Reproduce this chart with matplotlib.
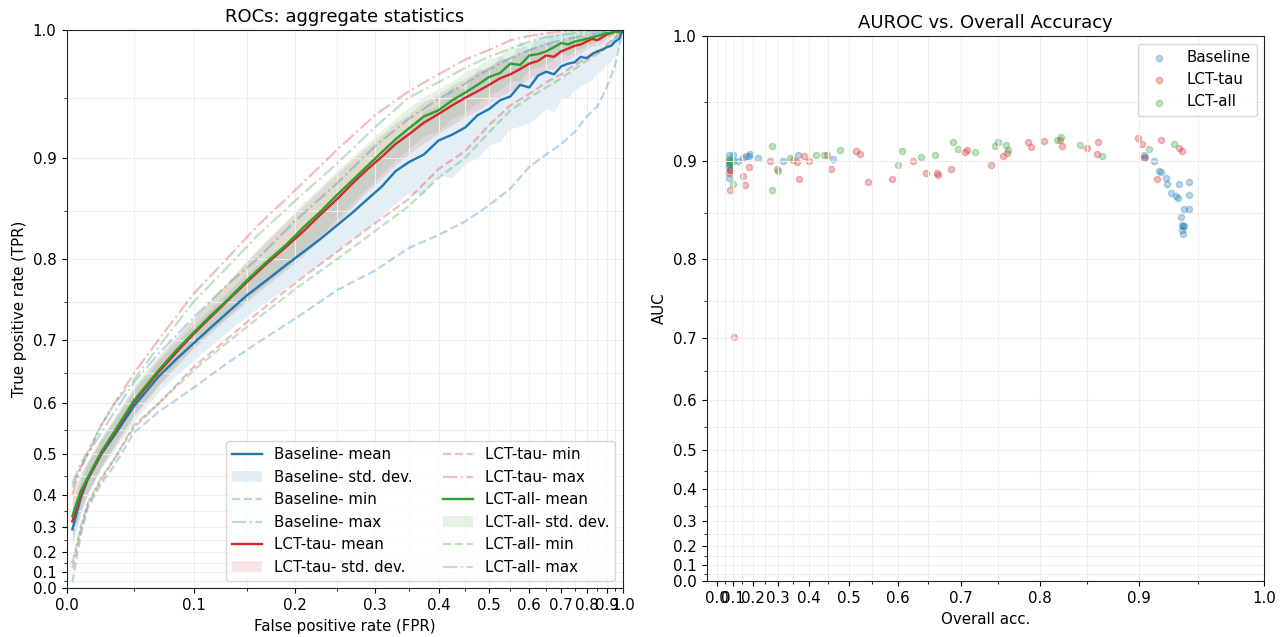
import numpy as np
import matplotlib
matplotlib.use("Agg")
import matplotlib.pyplot as plt
from matplotlib.ticker import FixedLocator, FormatStrFormatter

plt.rcParams["font.size"] = 10.8
plt.rcParams["axes.titlesize"] = 13
plt.rcParams["xtick.major.size"] = 3.8
plt.rcParams["ytick.major.size"] = 3.8
plt.rcParams["xtick.minor.size"] = 2.2
plt.rcParams["ytick.minor.size"] = 2.2

# ---------------- data: ROC aggregate curves ----------------
fpr_fine = [0.004, 0.01, 0.015, 0.025, 0.035, 0.05, 0.07, 0.085,
            0.1, 0.115, 0.13, 0.15, 0.17, 0.19,
            0.21, 0.23, 0.25, 0.27, 0.29,
            0.31, 0.33, 0.35,
            0.375, 0.4, 0.425, 0.45, 0.475, 0.5, 0.525, 0.55, 0.575, 0.6, 0.625, 0.65, 0.675,
            0.7, 0.725, 0.75, 0.775, 0.8, 0.825, 0.85, 0.875, 0.9, 0.925, 0.95, 0.975, 1.0]

base_mean = [0.29, 0.39, 0.44, 0.50, 0.54, 0.595, 0.645, 0.672,
             0.695, 0.716, 0.735, 0.758, 0.776, 0.793,
             0.808, 0.822, 0.836, 0.849, 0.862,
             0.874, 0.888, 0.896,
             0.903, 0.915, 0.920, 0.926, 0.936, 0.941, 0.948, 0.951, 0.960, 0.958, 0.967, 0.970, 0.968,
             0.974, 0.976, 0.977, 0.981, 0.980, 0.983, 0.985, 0.986, 0.988, 0.989, 0.992, 0.994, 1.0]
base_std = [0.065, 0.05, 0.04, 0.032, 0.03, 0.027, 0.025, 0.025,
            0.025, 0.025, 0.025, 0.026, 0.026, 0.026,
            0.026, 0.027, 0.027, 0.027, 0.028,
            0.028, 0.030, 0.028,
            0.036, 0.030, 0.038, 0.031, 0.036, 0.030, 0.034, 0.026, 0.033, 0.028, 0.032, 0.028, 0.030,
            0.024, 0.026, 0.021, 0.022, 0.018, 0.019, 0.016, 0.015, 0.012, 0.012, 0.008, 0.006, 0.0]

tau_mean = [0.318, 0.40, 0.442, 0.502, 0.545, 0.602, 0.652, 0.682,
            0.708, 0.730, 0.750, 0.774, 0.795, 0.813,
            0.830, 0.847, 0.862, 0.877, 0.890,
            0.901, 0.912, 0.920,
            0.930, 0.937, 0.944, 0.950, 0.955, 0.960, 0.965, 0.968, 0.972, 0.976, 0.978, 0.982, 0.981,
            0.985, 0.987, 0.989, 0.990, 0.992, 0.994, 0.993, 0.995, 0.997, 0.998, 0.999, 0.999, 1.0]
tau_std = [0.07, 0.05, 0.04, 0.032, 0.028, 0.025, 0.022, 0.021,
           0.02, 0.021, 0.022, 0.024, 0.025, 0.026,
           0.026, 0.025, 0.024, 0.022, 0.020,
           0.019, 0.018, 0.017,
           0.017, 0.016, 0.016, 0.015, 0.015, 0.014, 0.014, 0.013, 0.012, 0.011, 0.011, 0.010, 0.009,
           0.008, 0.008, 0.007, 0.006, 0.005, 0.005, 0.004, 0.004, 0.003, 0.002, 0.002, 0.001, 0.0]

all_mean = [0.335, 0.41, 0.445, 0.505, 0.548, 0.605, 0.655, 0.685,
            0.710, 0.732, 0.751, 0.776, 0.797, 0.815,
            0.834, 0.850, 0.866, 0.880, 0.893,
            0.905, 0.916, 0.925,
            0.935, 0.940, 0.948, 0.954, 0.960, 0.966, 0.969, 0.976, 0.975, 0.982, 0.983, 0.985, 0.988,
            0.991, 0.990, 0.992, 0.993, 0.994, 0.995, 0.996, 0.997, 0.998, 0.998, 0.999, 0.999, 1.0]
all_std = [0.065, 0.048, 0.04, 0.032, 0.028, 0.025, 0.022, 0.02,
           0.02, 0.02, 0.021, 0.023, 0.024, 0.025,
           0.025, 0.024, 0.023, 0.021, 0.02,
           0.019, 0.018, 0.017,
           0.016, 0.017, 0.015, 0.016, 0.014, 0.014, 0.013, 0.013, 0.012, 0.010, 0.010, 0.009, 0.009,
           0.007, 0.008, 0.006, 0.006, 0.005, 0.004, 0.004, 0.003, 0.003, 0.002, 0.001, 0.001, 0.0]

fpr_coarse = [0.004, 0.01, 0.015, 0.025, 0.035, 0.05, 0.07,
              0.1, 0.13, 0.16, 0.2,
              0.25, 0.3, 0.35, 0.4, 0.45, 0.5, 0.55, 0.6, 0.65, 0.7, 0.75, 0.8, 0.85, 0.9, 0.95, 1.0]

base_min = [0.04, 0.27, 0.36, 0.43, 0.475, 0.545, 0.585,
            0.627, 0.665, 0.695, 0.728,
            0.764, 0.787, 0.812, 0.826, 0.840, 0.856, 0.872, 0.892, 0.903, 0.912, 0.922, 0.935, 0.943, 0.958, 0.975, 1.0]
base_max = [0.42, 0.47, 0.50, 0.545, 0.585, 0.635, 0.68,
            0.73, 0.77, 0.80, 0.84,
            0.877, 0.91, 0.933, 0.949, 0.961, 0.972, 0.98, 0.986, 0.99, 0.993, 0.995, 0.997, 0.998, 0.999, 1.0, 1.0]
tau_min = [0.12, 0.29, 0.37, 0.44, 0.49, 0.56, 0.60,
           0.66, 0.70, 0.735, 0.772,
           0.808, 0.838, 0.862, 0.89, 0.906, 0.928, 0.944, 0.953, 0.962, 0.968, 0.975, 0.98, 0.984, 0.99, 0.995, 1.0]
tau_max = [0.40, 0.47, 0.50, 0.56, 0.60, 0.65, 0.70,
           0.76, 0.80, 0.835, 0.87,
           0.907, 0.936, 0.955, 0.968, 0.979, 0.986, 0.993, 0.996, 0.998, 0.999, 1.0, 1.0, 1.0, 1.0, 1.0, 1.0]
all_min = [0.15, 0.30, 0.375, 0.445, 0.49, 0.555, 0.60,
           0.655, 0.695, 0.728, 0.765,
           0.80, 0.83, 0.855, 0.882, 0.90, 0.922, 0.94, 0.95, 0.958, 0.965, 0.972, 0.978, 0.983, 0.988, 0.994, 1.0]
all_max = [0.43, 0.48, 0.505, 0.56, 0.60, 0.64, 0.69,
           0.75, 0.79, 0.825, 0.86,
           0.895, 0.926, 0.95, 0.962, 0.973, 0.981, 0.987, 0.992, 0.995, 0.997, 0.998, 0.999, 1.0, 1.0, 1.0, 1.0]

# ---------------- data: AUROC vs overall accuracy ----------------
base_acc = [0.078, 0.102, 0.078, 0.078, 0.078, 0.082, 0.078, 0.102, 0.129, 0.155, 0.170, 0.187, 0.183,
            0.224, 0.318, 0.368, 0.462, 0.904, 0.905, 0.913, 0.918, 0.919, 0.924, 0.9244, 0.928, 0.932,
            0.934, 0.9346, 0.9425, 0.943, 0.939, 0.943, 0.936, 0.937, 0.938, 0.939, 0.937, 0.938]
base_auc = [0.905, 0.905, 0.900, 0.897, 0.894, 0.891, 0.884, 0.900, 0.900, 0.902, 0.904, 0.906, 0.904,
            0.902, 0.900, 0.905, 0.901, 0.905, 0.903, 0.900, 0.890, 0.8897, 0.884, 0.878, 0.870, 0.867,
            0.865, 0.878, 0.8805, 0.868, 0.854, 0.854, 0.846, 0.838, 0.836, 0.836, 0.832, 0.8275]

tau_acc = [0.0824, 0.078, 0.080, 0.155, 0.163, 0.182, 0.271, 0.298, 0.3505, 0.363, 0.369, 0.385, 0.400,
           0.447, 0.457, 0.516, 0.524, 0.542, 0.589, 0.626, 0.6475, 0.664, 0.666, 0.6855, 0.7057, 0.709,
           0.7404, 0.7565, 0.7615, 0.7868, 0.7896, 0.805, 0.8223, 0.8241, 0.8501, 0.8601, 0.8616, 0.8992,
           0.9029, 0.9046, 0.9155, 0.9196, 0.9346, 0.937, 0.104]
tau_auc = [0.8726, 0.8885, 0.891, 0.886, 0.8777, 0.894, 0.8998, 0.8924, 0.9005, 0.899, 0.8828, 0.9044, 0.8995,
           0.9048, 0.8921, 0.9085, 0.906, 0.8802, 0.8828, 0.900, 0.889, 0.889, 0.887, 0.8924, 0.908, 0.9094,
           0.896, 0.9044, 0.907, 0.9165, 0.912, 0.917, 0.9185, 0.9132, 0.911, 0.9055, 0.916, 0.920,
           0.915, 0.902, 0.8828, 0.918, 0.911, 0.9085, 0.702]

all_acc = [0.078, 0.083, 0.080, 0.078, 0.1017, 0.2788, 0.2797, 0.302, 0.3418, 0.4183, 0.4405, 0.48, 0.5999,
           0.606, 0.6384, 0.6608, 0.6891, 0.6953, 0.7196, 0.746, 0.7502, 0.7599, 0.7627, 0.8195, 0.823,
           0.8433, 0.8653, 0.9092, 0.9307]
all_auc = [0.8994, 0.898, 0.897, 0.901, 0.878, 0.9125, 0.8721, 0.890, 0.902, 0.905, 0.905, 0.909, 0.896,
           0.9085, 0.9035, 0.905, 0.9165, 0.9103, 0.908, 0.913, 0.916, 0.9137, 0.9094, 0.918, 0.9205,
           0.9136, 0.9044, 0.9103, 0.915]

group_names = ["Baseline", "LCT-tau", "LCT-all"]
group_colors = ["#1f77b4", "#d62728", "#2ca02c"]


# ---------------- scales ----------------
def fwd_left_x(x):
    return 1.0 - np.power(10.0, -np.asarray(x, dtype=float))


def inv_left_x(u):
    u = np.asarray(u, dtype=float)
    with np.errstate(all="ignore"):
        return -np.log10(np.clip(1.0 - u, 1e-12, None))


def fwd_exp(y):
    return np.power(10.0, np.asarray(y, dtype=float))


def inv_exp(v):
    v = np.asarray(v, dtype=float)
    with np.errstate(all="ignore"):
        return np.log10(np.clip(v, 1e-12, None))


major = np.round(np.arange(0, 1.01, 0.1), 2)
minor = np.round(np.arange(0.05, 1.0, 0.1), 2)

fig = plt.figure(figsize=(12.85, 6.37), dpi=100)
ax1 = fig.add_axes([66.7 / 1285, (637 - 588.3) / 637, 556 / 1285, 558 / 637])
ax2 = fig.add_axes([706.7 / 1285, (637 - 581) / 637, 557.3 / 1285, 545 / 637])

# ---------------- left: ROCs ----------------
fpr_f = np.array(fpr_fine)
fpr_c = np.array(fpr_coarse)
means = [base_mean, tau_mean, all_mean]
stds = [base_std, tau_std, all_std]
mins = [base_min, tau_min, all_min]
maxs = [base_max, tau_max, all_max]

for name, col, m, s, mn, mx in zip(group_names, group_colors, means, stds, mins, maxs):
    m = np.array(m)
    s = np.array(s)
    ax1.plot(fpr_f, m, color=col, lw=1.7, label=f"{name}- mean")
    ax1.fill_between(fpr_f, m - s, m + s, color=col, alpha=0.12, lw=0,
                     label=f"{name}- std. dev.")
    ax1.plot(fpr_c, mn, color=col, lw=1.6, ls="--", alpha=0.3, label=f"{name}- min")
    ax1.plot(fpr_c, mx, color=col, lw=1.6, ls="-.", alpha=0.3, label=f"{name}- max")

ax1.set_xscale("function", functions=(fwd_left_x, inv_left_x))
ax1.set_yscale("function", functions=(fwd_exp, inv_exp))
ax1.set_xlim(0, 1)
ax1.set_ylim(0, 1)
ax1.set_title("ROCs: aggregate statistics")
ax1.set_xlabel("False positive rate (FPR)")
ax1.set_ylabel("True positive rate (TPR)")
ax1.legend(loc="lower right", ncol=2)

# ---------------- right: AUROC vs accuracy ----------------
accs = [base_acc, tau_acc, all_acc]
aucs = [base_auc, tau_auc, all_auc]
for name, col, a, u in zip(group_names, group_colors, accs, aucs):
    ax2.scatter(a, u, s=20, color=col, alpha=0.3, label=name)

ax2.set_xscale("function", functions=(fwd_exp, inv_exp))
ax2.set_yscale("function", functions=(fwd_exp, inv_exp))
ax2.set_xlim(-0.083, 1.0)
ax2.set_ylim(0, 1)
ax2.set_title("AUROC vs. Overall Accuracy")
ax2.set_xlabel("Overall acc.")
ax2.set_ylabel("AUC")
ax2.legend(loc="upper right")

for ax in (ax1, ax2):
    for axis in (ax.xaxis, ax.yaxis):
        axis.set_major_locator(FixedLocator(major))
        axis.set_minor_locator(FixedLocator(minor))
        axis.set_major_formatter(FormatStrFormatter("%.1f"))
    ax.grid(which="both", color="#eeeeee", linewidth=0.8)
    for sp in ax.spines.values():
        sp.set_color("#222222")

fig.savefig("out.png", dpi=100)
